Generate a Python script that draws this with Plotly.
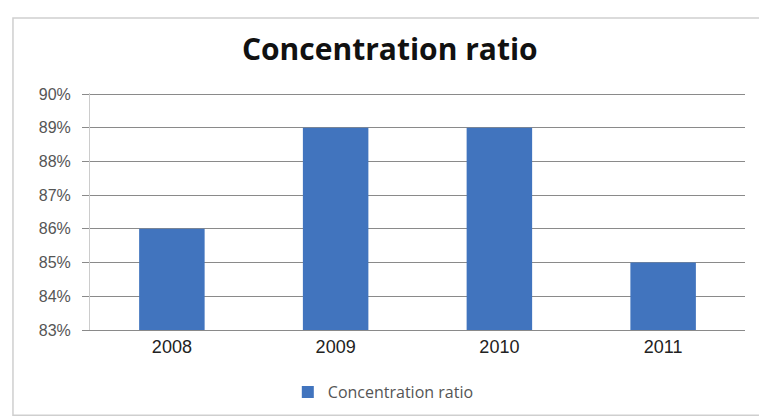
import plotly.graph_objects as go

years = ['2008', '2009', '2010', '2011']
ratio = [0.86, 0.89, 0.89, 0.85]
y_ticks = [0.83, 0.84, 0.85, 0.86, 0.87, 0.88, 0.89, 0.90]
y_labels = ['83%', '84%', '85%', '86%', '87%', '88%', '89%', '90%']
y_floor = 0.83

bar = go.Bar(x=years, y=[v - y_floor for v in ratio], base=y_floor,
             name='Concentration ratio',
             marker=dict(color='#4174BE', line=dict(width=0)),
             showlegend=True)

layout = go.Layout(
    width=759, height=411,
    paper_bgcolor='white', plot_bgcolor='white',
    margin=go.layout.Margin(autoexpand=False, l=82, r=22, t=85, b=89),
    font=dict(family='Liberation Sans, Arial, sans-serif', color='#404040'),
    title=dict(text='<b>Concentration ratio</b>', x=0.503, xanchor='center',
               y=0.898, yanchor='middle',
               font=dict(family='Open Sans, Lato, sans-serif', size=30, color='#111111')),
    bargap=0.6,
    xaxis=go.layout.XAxis(showgrid=False, showline=True, linecolor='#8a8a8a', linewidth=1,
                          ticks='',
                          tickfont=dict(size=18, color='#222222')),
    yaxis=go.layout.YAxis(range=[0.83, 0.9003], tickvals=y_ticks, ticktext=y_labels,
                          showgrid=True, gridcolor='#8a8a8a', gridwidth=1,
                          showline=True, linecolor='#cccccc', linewidth=1,
                          ticks='outside', ticklen=7, tickcolor='#8a8a8a',
                          ticklabelstandoff=8,
                          tickfont=dict(size=16, color='#555555'),
                          zeroline=False),
    legend=dict(orientation='h', x=0.302, xanchor='left', y=-0.262, yanchor='middle',
                bgcolor='rgba(0,0,0,0)', itemwidth=30,
                font=dict(family='Open Sans, sans-serif', size=16, color='#555555')),
    shapes=[dict(type='rect', xref='paper', yref='paper',
                 x0=-0.1176, x1=1.026, y0=-0.36, y1=1.316,
                 line=dict(color='#cfcfcf', width=1.5))],
)

fig = go.Figure(data=[bar], layout=layout)
fig.write_html('out.html')
